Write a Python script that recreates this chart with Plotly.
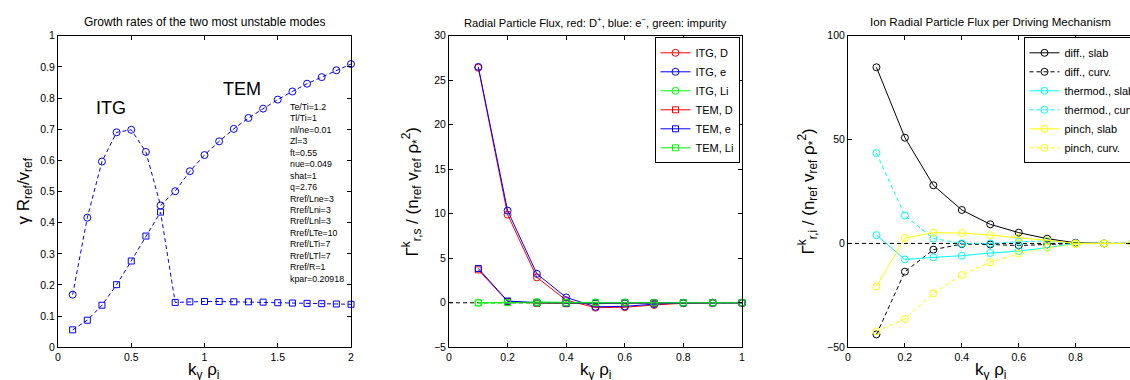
import plotly.graph_objects as go

# ---------------- data ----------------
k_growth = [0.1, 0.2, 0.3, 0.4, 0.5, 0.6, 0.7, 0.8, 0.9, 1.0,
            1.1, 1.2, 1.3, 1.4, 1.5, 1.6, 1.7, 1.8, 1.9, 2.0]
gamma_mode1 = [0.169, 0.416, 0.596, 0.690, 0.698, 0.627, 0.455, 0.501, 0.565, 0.617,
               0.661, 0.701, 0.736, 0.766, 0.795, 0.821, 0.846, 0.867, 0.889, 0.909]
gamma_mode2 = [0.056, 0.087, 0.135, 0.201, 0.277, 0.357, 0.434, 0.144, 0.146, 0.147,
               0.147, 0.146, 0.146, 0.145, 0.143, 0.142, 0.141, 0.140, 0.139, 0.138]

k_flux = [0.1, 0.2, 0.3, 0.4, 0.5, 0.6, 0.7, 0.8, 0.9, 1.0]
itg_D = [26.4, 9.9, 2.85, 0.3, -0.55, -0.5, -0.25, -0.05, 0.0, 0.0]
itg_e = [26.5, 10.35, 3.25, 0.6, -0.45, -0.4, -0.15, -0.02, 0.0, 0.0]
itg_Li = [0.0, 0.05, 0.1, 0.05, 0.05, 0.05, 0.02, 0.0, 0.0, 0.0]
tem_D = [3.7, 0.15, -0.05, -0.1, -0.1, -0.05, -0.03, 0.0, 0.0, 0.0]
tem_e = [3.85, 0.2, 0.0, -0.05, -0.05, -0.03, -0.02, 0.0, 0.0, 0.0]
tem_Li = [0.0, 0.02, 0.0, 0.0, 0.0, 0.0, 0.0, 0.0, 0.0, 0.0]

diff_slab = [84.8, 50.9, 28.0, 16.1, 9.2, 5.2, 2.3, 0.3, 0.0, 0.0]
diff_curv = [-43.8, -13.6, -3.0, -0.3, -0.5, -1.0, -0.5, 0.0, 0.0, 0.0]
thermod_slab = [4.0, -7.7, -6.7, -5.9, -4.6, -3.7, -2.0, 0.0, 0.0, 0.0]
thermod_curv = [43.5, 13.4, 2.4, 0.0, 0.0, 0.8, 1.2, 0.0, 0.0, 0.0]
pinch_slab = [-20.7, 2.6, 5.2, 5.0, 4.0, 2.8, 1.5, 0.0, 0.0, 0.0]
pinch_curv = [-42.3, -36.4, -24.0, -15.2, -9.1, -4.9, -2.1, -0.3, 0.0, 0.0]

params = ["Te/Ti=1.2", "Tl/Ti=1", "nl/ne=0.01", "Zl=3", "ft=0.55", "nue=0.049",
          "shat=1", "q=2.76", "Rref/Lne=3", "Rref/Lni=3", "Rref/Lnl=3",
          "Rref/LTe=10", "Rref/LTi=7", "Rref/LTl=7", "Rref/R=1", "kpar=0.20918"]

# ---------------- layout helpers ----------------
W, H = 1130, 380
FONT = "Liberation Sans, Arial, Helvetica, sans-serif"
def px_x(p):
    return p / W
def px_y(p):
    return (H - p) / H

plot_top, plot_bot = 35.7, 347.3
ydom = [px_y(plot_bot), px_y(plot_top)]

fig = go.Figure()

DASH = "4px,3px"
BLUE, RED, GREEN, CYAN, YELLOW, BLACK = "#0000ff", "#ff0000", "#00ff00", "#00ffff", "#ffff00", "#000000"

# left panel
fig.add_trace(go.Scatter(x=k_growth, y=gamma_mode1, mode="lines+markers",
                         line=dict(color=BLUE, width=1, dash=DASH),
                         marker=dict(symbol="circle-open", size=7, color=BLUE, line=dict(width=1)),
                         xaxis="x", yaxis="y", showlegend=False, cliponaxis=False))
fig.add_trace(go.Scatter(x=k_growth, y=gamma_mode2, mode="lines+markers",
                         line=dict(color=BLUE, width=1, dash=DASH),
                         marker=dict(symbol="square-open", size=6, color=BLUE, line=dict(width=1)),
                         xaxis="x", yaxis="y", showlegend=False, cliponaxis=False))

# middle panel
mid = [("ITG, D", itg_D, RED, "circle-open", 7),
       ("ITG, e", itg_e, BLUE, "circle-open", 7),
       ("ITG, Li", itg_Li, GREEN, "circle-open", 7),
       ("TEM, D", tem_D, RED, "square-open", 6),
       ("TEM, e", tem_e, BLUE, "square-open", 6),
       ("TEM, Li", tem_Li, GREEN, "square-open", 6)]
for name, vals, col, sym, sz in mid:
    fig.add_trace(go.Scatter(x=k_flux, y=vals, mode="lines+markers", name=name,
                             line=dict(color=col, width=1),
                             marker=dict(symbol=sym, size=sz, color=col, line=dict(width=1)),
                             xaxis="x2", yaxis="y2", legend="legend2", cliponaxis=False))

# right panel
right = [("diff., slab", diff_slab, BLACK, "solid"),
         ("diff., curv.", diff_curv, BLACK, DASH),
         ("thermod., slab", thermod_slab, CYAN, "solid"),
         ("thermod., curv.", thermod_curv, CYAN, DASH),
         ("pinch, slab", pinch_slab, YELLOW, "solid"),
         ("pinch, curv.", pinch_curv, YELLOW, DASH)]
for name, vals, col, dash in right:
    fig.add_trace(go.Scatter(x=k_flux, y=vals, mode="lines+markers", name=name,
                             line=dict(color=col, width=1, dash=dash),
                             marker=dict(symbol="circle-open", size=7, color=col, line=dict(width=1)),
                             xaxis="x3", yaxis="y3", legend="legend3"))

axis_common = dict(showline=True, linecolor="black", linewidth=1, mirror="ticks",
                   ticks="inside", ticklen=4, tickcolor="black", showgrid=False,
                   zeroline=False, tickfont=dict(family=FONT, size=10.5, color="black"))

fig.update_layout(
    width=W, height=H,
    margin=dict(l=0, r=0, t=0, b=0, autoexpand=False),
    paper_bgcolor="white", plot_bgcolor="white",
    font=dict(family=FONT, color="black"),
    xaxis=dict(domain=[px_x(58), px_x(351)], range=[0, 2], dtick=0.5, anchor="y", **axis_common),
    yaxis=dict(domain=ydom, range=[0, 1], dtick=0.1, anchor="x", **axis_common),
    xaxis2=dict(domain=[px_x(449), px_x(742)], range=[0, 1], dtick=0.2, anchor="y2", **axis_common),
    yaxis2=dict(domain=ydom, range=[-5, 30], dtick=5, anchor="x2", **axis_common),
    xaxis3=dict(domain=[px_x(848), 1.0], range=[0, 0.991], dtick=0.2, anchor="y3", **axis_common),
    yaxis3=dict(domain=ydom, range=[-50, 100], dtick=50, anchor="x3", **axis_common),
    legend2=dict(x=px_x(739.5), y=px_y(37.3), xanchor="right", yanchor="top",
                 bordercolor="black", borderwidth=1, bgcolor="white",
                 font=dict(family=FONT, size=11, color="black"), itemwidth=30,
                 tracegroupgap=0),
    legend3=dict(x=px_x(1023.5), y=px_y(37.3), xanchor="left", yanchor="top",
                 bordercolor="black", borderwidth=1, bgcolor="white",
                 font=dict(family=FONT, size=11, color="black"), itemwidth=30,
                 tracegroupgap=0),
)

# zero reference lines
fig.add_shape(type="line", xref="x2 domain", yref="y2", x0=0, x1=1, y0=0, y1=0,
              line=dict(color="black", width=1, dash=DASH), layer="below")
fig.add_shape(type="line", xref="x3 domain", yref="y3", x0=0, x1=1, y0=0, y1=0,
              line=dict(color="black", width=1, dash=DASH), layer="below")

anns = []
# titles
titles = [("Growth rates of the two most unstable modes", (58 + 351) / 2, 12),
          ("Radial Particle Flux, red: D<sup>+</sup>, blue: e<sup>\u2212</sup>, green: impurity", (449 + 742) / 2, 11.2),
          ("Ion Radial Particle Flux per Driving Mechanism", (848 + 1133) / 2, 11.6)]
for t, cx, fs in titles:
    anns.append(dict(text=t, x=px_x(cx), y=px_y(22), xref="paper", yref="paper",
                     xanchor="center", yanchor="middle", showarrow=False,
                     font=dict(family=FONT, size=fs, color="black")))
# x labels
for cx in [(58 + 351) / 2, (449 + 742) / 2, (848 + 1133) / 2]:
    anns.append(dict(text="k<sub>y</sub> \u03c1<sub>i</sub>", x=px_x(cx), y=px_y(371),
                     xref="paper", yref="paper", xanchor="center", yanchor="middle",
                     showarrow=False, font=dict(family=FONT, size=17, color="black")))
# y labels
ylabels = [("\u03b3 R<sub>ref</sub>/v<sub>ref</sub>", 24),
           ("\u0393<sup>k</sup><sub>r,s</sub> / (n<sub>ref</sub> v<sub>ref</sub> \u03c1<sub>*</sub><sup>2</sup>)", 412),
           ("\u0393<sup>k</sup><sub>r,i</sub> / (n<sub>ref</sub> v<sub>ref</sub> \u03c1<sub>*</sub><sup>2</sup>)", 808)]
for t, cx in ylabels:
    anns.append(dict(text=t, x=px_x(cx), y=px_y(191.5), xref="paper", yref="paper",
                     xanchor="center", yanchor="middle", textangle=-90, showarrow=False,
                     font=dict(family=FONT, size=17, color="black")))
# ITG / TEM labels
anns.append(dict(text="ITG", x=0.362, y=0.767, xref="x", yref="y", showarrow=False,
                 font=dict(family=FONT, size=18, color="black")))
anns.append(dict(text="TEM", x=1.256, y=0.828, xref="x", yref="y", showarrow=False,
                 font=dict(family=FONT, size=18, color="black")))
# parameters
anns.append(dict(text="<br>".join(params), x=px_x(288), y=px_y(99.5), xref="paper", yref="paper",
                 xanchor="left", yanchor="top", align="left", showarrow=False,
                 font=dict(family=FONT, size=8.8, color="black")))
fig.update_layout(annotations=anns)

fig.write_html("out.html", config={"displayModeBar": False},
               post_script="document.body.style.margin='0';document.body.style.overflow='hidden';")
